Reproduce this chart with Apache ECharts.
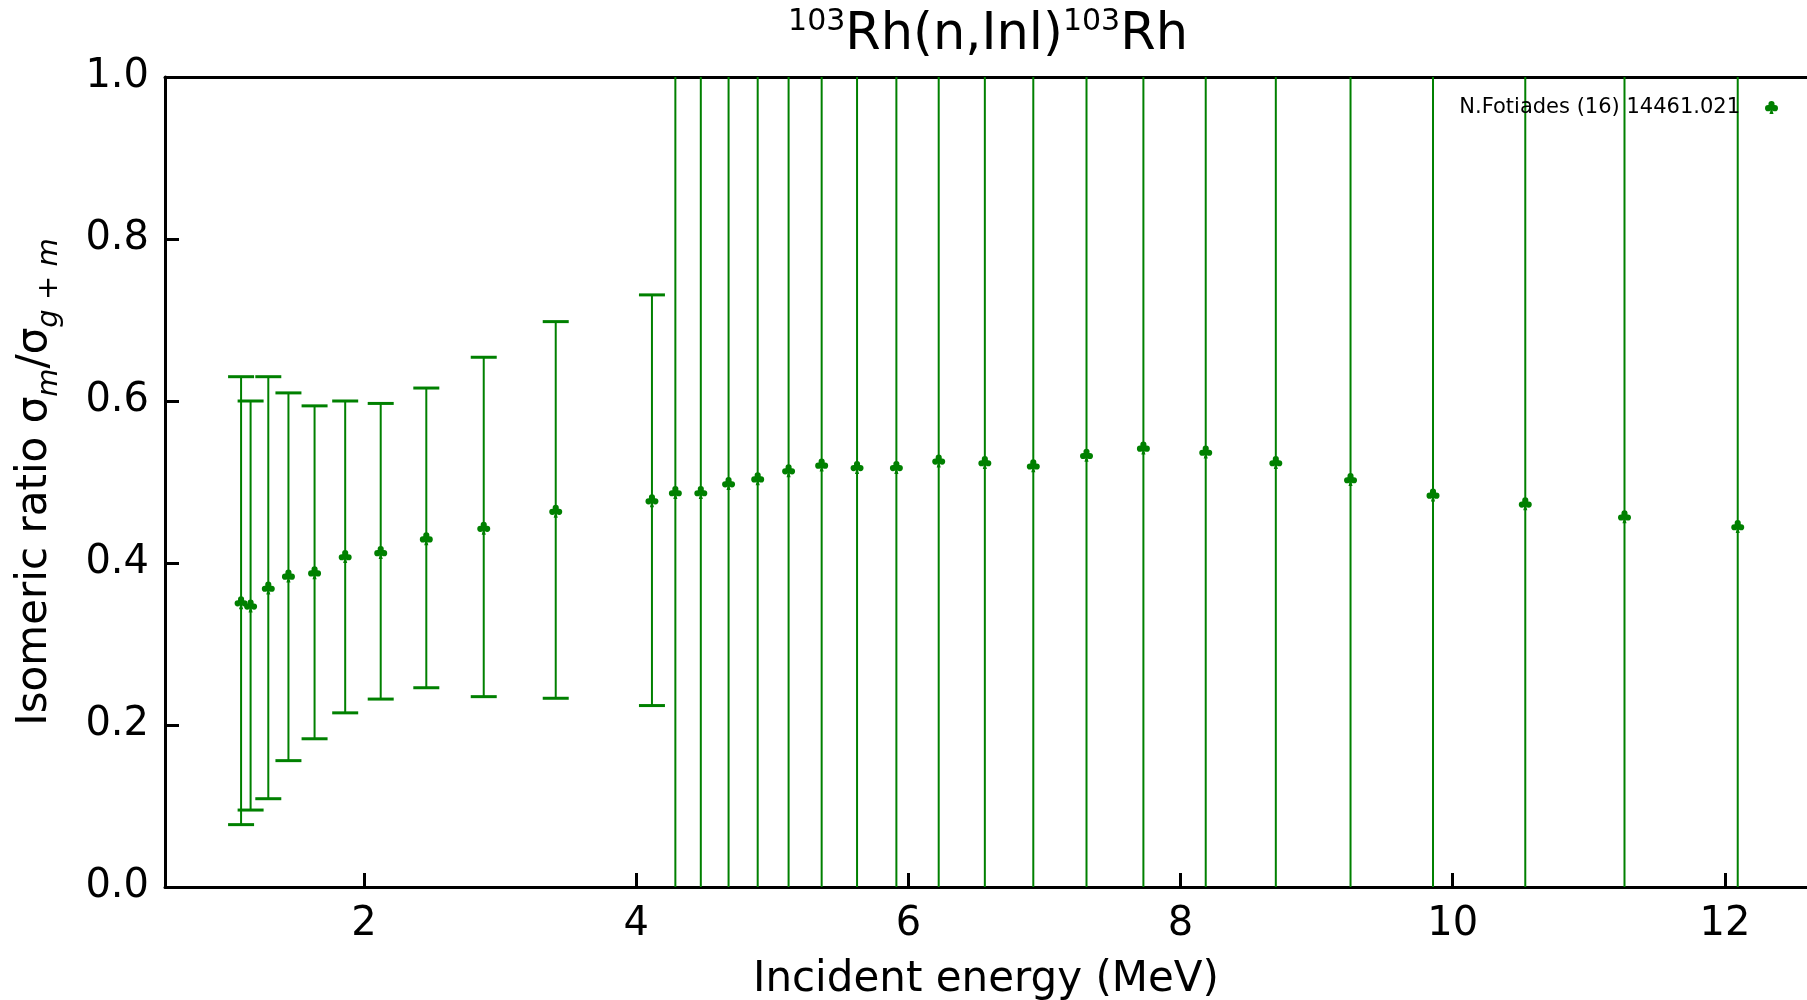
<!DOCTYPE html>
<html>
<head>
<meta charset="utf-8">
<script src="https://cdn.jsdelivr.net/npm/echarts@6/dist/echarts.min.js"></script>
<style>
  html, body { margin: 0; padding: 0; background: #fff; }
  #chart { width: 1807px; height: 1000px; }
</style>
</head>
<body>
<div id="chart"></div>
<script>
// incident energy (MeV)
var energy = [1.097, 1.167, 1.297, 1.445, 1.637, 1.862, 2.123, 2.458, 2.880, 3.409,
              4.116, 4.288, 4.475, 4.679, 4.893, 5.120, 5.363, 5.623, 5.912, 6.223,
              6.562, 6.918, 7.309, 7.727, 8.185, 8.700, 9.249, 9.855, 10.533, 11.262, 12.094];
// isomeric ratio
var ratio = [0.351, 0.347, 0.369, 0.384, 0.388, 0.408, 0.413, 0.430, 0.443, 0.464,
             0.477, 0.487, 0.487, 0.498, 0.504, 0.514, 0.521, 0.518, 0.518, 0.526,
             0.524, 0.520, 0.533, 0.542, 0.537, 0.524, 0.503, 0.484, 0.473, 0.457, 0.445];
// error bar ends (the ones above 4.2 MeV run off the plot)
var errLow = [0.077, 0.095, 0.109, 0.156, 0.183, 0.215, 0.232, 0.246, 0.235, 0.233,
              0.224, -0.62, -0.62, -0.61, -0.60, -0.59, -0.58, -0.58, -0.58, -0.57,
              -0.58, -0.58, -0.57, -0.56, -0.56, -0.58, -0.60, -0.62, -0.63, -0.64, -0.66];
var errHigh = [0.630, 0.600, 0.630, 0.610, 0.594, 0.600, 0.597, 0.616, 0.654, 0.698,
               0.731, 1.59, 1.59, 1.61, 1.61, 1.62, 1.62, 1.62, 1.62, 1.63,
               1.63, 1.62, 1.64, 1.64, 1.64, 1.63, 1.61, 1.59, 1.58, 1.56, 1.55];
var xTicks = [2, 4, 6, 8, 10, 12];
var yTicks = [0, 0.2, 0.4, 0.6, 0.8, 1.0];

var seriesName = 'N.Fotiades (16) 14461.021';
var green = '#008000';
var font = 'DejaVu Sans';
// club marker, every piece drawn the same way round so nothing is left hollow
var clubPath = 'path://M5.5,5.5 a4.5,4.5 0 1,0 9,0 a4.5,4.5 0 1,0 -9,0 Z' +
    'M0.5,11.5 a4.5,4.5 0 1,0 9,0 a4.5,4.5 0 1,0 -9,0 Z' +
    'M10.5,11.5 a4.5,4.5 0 1,0 9,0 a4.5,4.5 0 1,0 -9,0 Z' +
    'M6,7 L6,14 L14,14 L14,7 Z M10,10 L7,20 L13,20 Z';

var chart = echarts.init(document.getElementById('chart'));

var barData = energy.map(function (e, i) { return [e, errLow[i], errHigh[i]]; });
var pointData = energy.map(function (e, i) { return [e, ratio[i]]; });

function renderErrorBar(params, api) {
    var x = api.value(0);
    var pLo = api.coord([x, api.value(1)]);
    var pHi = api.coord([x, api.value(2)]);
    var top = params.coordSys.y, bot = params.coordSys.y + params.coordSys.height;
    var y1 = Math.min(Math.max(pLo[1], top), bot);
    var y2 = Math.min(Math.max(pHi[1], top), bot);
    var half = 13;
    var kids = [{
        type: 'line',
        shape: { x1: pLo[0], y1: y1, x2: pLo[0], y2: y2 },
        style: { stroke: green, lineWidth: 2 }
    }];
    if (pHi[1] >= top && pHi[1] <= bot) {
        kids.push({ type: 'line', shape: { x1: pHi[0] - half, y1: pHi[1], x2: pHi[0] + half, y2: pHi[1] },
            style: { stroke: green, lineWidth: 3 } });
    }
    if (pLo[1] >= top && pLo[1] <= bot) {
        kids.push({ type: 'line', shape: { x1: pLo[0] - half, y1: pLo[1], x2: pLo[0] + half, y2: pLo[1] },
            style: { stroke: green, lineWidth: 3 } });
    }
    return { type: 'group', children: kids };
}

var option = {
    backgroundColor: '#fff',
    animation: false,
    textStyle: { fontFamily: font },
    graphic: [{
        type: 'text',
        x: 988,
        y: 36,
        style: {
            text: '{sup|103}Rh(n,Inl){sup|103}Rh',
            fontFamily: font,
            fontSize: 51,
            lineHeight: 58,
            fill: '#000',
            align: 'center',
            verticalAlign: 'middle',
            rich: {
                sup: { fontFamily: font, fontSize: 30, lineHeight: 34, verticalAlign: 'top', fill: '#000' }
            }
        }
    }],
    legend: {
        data: [seriesName],
        right: 24,
        top: 92,
        align: 'right',
        itemWidth: 13,
        itemHeight: 13,
        textStyle: { fontFamily: font, fontSize: 21, color: '#000', padding: [0, 20, 0, 0] }
    },
    grid: { left: 165, right: 0, top: 77, bottom: 113, outerBoundsMode: 'none' },
    xAxis: [{
        type: 'value',
        min: 0.538,
        max: 12.603,
        name: 'Incident energy (MeV)',
        nameLocation: 'middle',
        nameGap: 72,
        nameTextStyle: { fontFamily: font, fontSize: 42, color: '#000' },
        axisLine: { show: true, lineStyle: { color: '#000', width: 3 } },
        axisTick: { show: true, inside: true, length: 14, lineStyle: { color: '#000', width: 3 }, customValues: xTicks },
        axisLabel: { fontFamily: font, fontSize: 40, color: '#000', margin: 18, customValues: xTicks },
        splitLine: { show: false }
    }, {
        type: 'value',
        position: 'top',
        min: 0.538,
        max: 12.603,
        axisLine: { show: true, lineStyle: { color: '#000', width: 3 } },
        axisTick: { show: false },
        axisLabel: { show: false },
        splitLine: { show: false }
    }],
    yAxis: {
        type: 'value',
        min: 0,
        max: 1,
        interval: 0.2,
        name: 'Isomeric ratio σ{si|m}/σ{si|g}{s| + }{si|m}',
        nameLocation: 'middle',
        nameRotate: 90,
        nameGap: 101,
        nameTextStyle: {
            fontFamily: font, fontSize: 42, lineHeight: 58, color: '#000',
            rich: {
                si: { fontFamily: font, fontSize: 29, lineHeight: 31, fontStyle: 'italic', verticalAlign: 'bottom', color: '#000' },
                s: { fontFamily: font, fontSize: 29, lineHeight: 31, verticalAlign: 'bottom', color: '#000' }
            }
        },
        axisLine: { show: true, lineStyle: { color: '#000', width: 3 } },
        axisTick: { show: true, inside: true, length: 14, lineStyle: { color: '#000', width: 3 }, customValues: yTicks },
        axisLabel: {
            fontFamily: font, fontSize: 40, color: '#000', margin: 16, customValues: yTicks,
            formatter: function (v) { return v.toFixed(1); }
        },
        splitLine: { show: false }
    },
    series: [{
        type: 'custom',
        name: 'errors',
        renderItem: renderErrorBar,
        encode: { x: 0, y: [1, 2] },
        data: barData,
        z: 2
    }, {
        type: 'scatter',
        name: seriesName,
        symbol: clubPath,
        symbolSize: 13,
        itemStyle: { color: green, opacity: 1 },
        data: pointData,
        z: 3
    }]
};

chart.setOption(option);
</script>
</body>
</html>
